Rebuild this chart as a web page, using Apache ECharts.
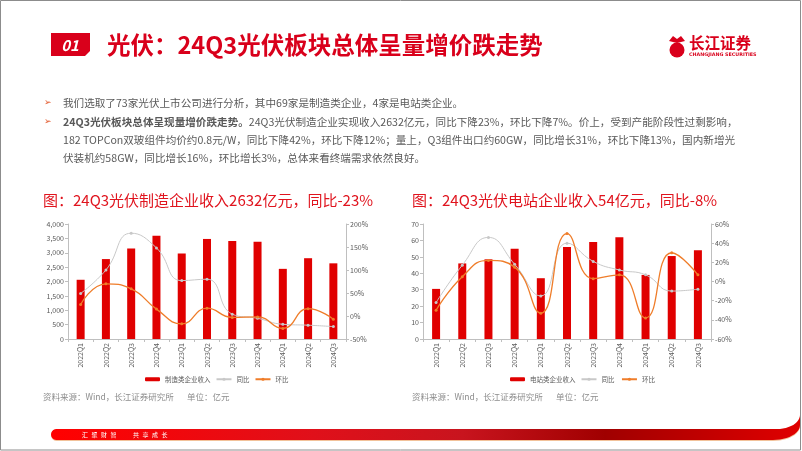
<!DOCTYPE html>
<html><head><meta charset="utf-8">
<script src="https://cdn.jsdelivr.net/npm/echarts@6/dist/echarts.min.js"></script>
<style>html,body{margin:0;padding:0;background:#fff}#c{width:802px;height:451px}</style>
</head><body><div id="c"></div>
<script>
const categories = ['2022Q1','2022Q2','2022Q3','2022Q4','2023Q1','2023Q2','2023Q3','2023Q4','2024Q1','2024Q2','2024Q3'];
const mfgRevenue = [2060,2780,3150,3590,2970,3480,3410,3380,2440,2810,2632];
const mfgYoY = [49,100,180,148,77,80,4,-5,-18,-20,-23];
const mfgQoQ = [25,70,59,15,-17,17,-3,-2,-27,16,-7];
const plantRevenue = [30.5,46,48.5,55,37,56,59,62,39,50.5,54];
const plantYoY = [-22,17,46,18,-15,40,21,12,7,-10,-8];
const plantQoQ = [-30,5,22,15,-33,50,3,7,-38,30,7];

const FONT = '"Noto Sans CJK SC","Noto Sans",sans-serif';
const RED = '#e00000', GRAY = '#c8c8c8', ORANGE = '#ef7d2a', TXT = '#595959';
const chart = echarts.init(document.getElementById('c'));

function xAxis(gi){return {type:'category',gridIndex:gi,data:categories,
  axisLine:{lineStyle:{color:'#bfbfbf'}},axisTick:{show:true,length:3,lineStyle:{color:'#bfbfbf'}},
  axisLabel:{rotate:90,fontSize:7,color:TXT,margin:4,fontFamily:FONT}};}
function yAxis(gi,min,max,iv,pos,fmt){return {type:'value',gridIndex:gi,min:min,max:max,interval:iv,position:pos,
  splitLine:{show:false},axisLine:{show:true,lineStyle:{color:'#bfbfbf'}},
  axisTick:{show:true,length:3,lineStyle:{color:'#bfbfbf'}},
  axisLabel:{fontSize:7,color:TXT,margin:4,fontFamily:FONT,formatter:fmt}};}
function lineS(name,data,color,xi,yi,w){return {name:name,type:'line',xAxisIndex:xi,yAxisIndex:yi,data:data,smooth:0.5,
  symbol:'circle',symbolSize:3,lineStyle:{color:color,width:w},itemStyle:{color:color}};}

const bullets = [
 {y:103, rich:'{n|我们选取了73家光伏上市公司进行分析，其中69家是制造类企业，4家是电站类企业。}', b:true},
 {y:122, rich:'{b|24Q3光伏板块总体呈现量增价跌走势。}{n|24Q3光伏制造企业实现收入2632亿元，同比下降23%，环比下降7%。价上，受到产能阶段性过剩影响，}', b:true},
 {y:140, rich:'{n|182 TOPCon双玻组件均价约0.8元/W，同比下降42%，环比下降12%；量上，Q3组件出口约60GW，同比增长31%，环比下降13%，国内新增光}', b:false},
 {y:158, rich:'{n|伏装机约58GW，同比增长16%，环比增长3%，总体来看终端需求依然良好。}', b:false}
];
// footer band outline (decoration only)
function band(top, bot, tr, br){
  const pts=[];
  const r=(bot-top)/2, cy=(top+bot)/2;
  for(let i=0;i<=10;i++){const a=Math.PI/2+i/10*Math.PI;pts.push([51+r+r*Math.cos(a), cy+r*Math.sin(a)]);}
  const tx=777, ty=tr;
  for(let i=0;i<=12;i++){const a=i/12*Math.PI/2;pts.push([tx+23*Math.sin(a), ty+(top-ty)*Math.cos(a)]);}
  const bx=773, by=br;
  for(let i=12;i>=0;i--){const a=i/12*Math.PI/2;pts.push([bx+27*Math.sin(a), by+(bot-by)*Math.cos(a)]);}
  return pts;
}
const graphics = [];
graphics.push({type:'rect',shape:{x:0.5,y:0.5,width:800,height:449.5},style:{fill:'none',stroke:'#8c8c8c',lineWidth:1},z:100});
// header box
graphics.push({type:'polygon',shape:{points:[[51,33],[90,33],[90,51],[85,56],[51,56]]},style:{fill:'#d9001b'}});
graphics.push({type:'text',x:70,y:45,style:{text:'01',fill:'#fff',font:'italic bold 15px '+FONT,align:'center',verticalAlign:'middle'}});
graphics.push({type:'text',x:107,y:45,style:{text:'光伏：24Q3光伏板块总体呈量增价跌走势',fill:'#d9001b',font:'bold 23.5px '+FONT,verticalAlign:'middle'}});
// logo
graphics.push({type:'circle',shape:{cx:677,cy:50,r:7.5},style:{fill:'#d9001b'}});
graphics.push({type:'polygon',shape:{points:[[669,41],[673,36],[677,39],[681,36],[685,41],[677,43]]},style:{fill:'#d9001b'}});
graphics.push({type:'text',x:689,y:43,style:{text:'长江证券',fill:'#d9001b',font:'bold 15.5px '+FONT,verticalAlign:'middle'}});
graphics.push({type:'text',x:689,y:54.5,style:{text:'CHANGJIANG SECURITIES',fill:'#d9001b',font:'bold 4.8px "DejaVu Sans",sans-serif',verticalAlign:'middle'}});
// bullets
bullets.forEach(function(b){
  if(b.b) graphics.push({type:'text',x:44,y:b.y,style:{text:'➢',fill:'#e2572a',font:'9px "DejaVu Sans",sans-serif',verticalAlign:'middle'}});
  graphics.push({type:'text',x:63,y:b.y,style:{text:b.rich,verticalAlign:'middle',
    rich:{n:{fill:TXT,font:'10.6px '+FONT},b:{fill:TXT,font:'bold 10.6px '+FONT}}}});
});
// chart titles
graphics.push({type:'text',x:43,y:200,style:{text:'图：24Q3光伏制造企业收入2632亿元，同比-23%',fill:'#e0141e',font:'15px '+FONT,verticalAlign:'middle'}});
graphics.push({type:'text',x:412,y:200,style:{text:'图：24Q3光伏电站企业收入54亿元，同比-8%',fill:'#e0141e',font:'15px '+FONT,verticalAlign:'middle'}});
// sources
graphics.push({type:'text',x:43,y:397,style:{text:'资料来源：Wind，长江证券研究所       单位：亿元',fill:'#8c8c8c',font:'8.5px '+FONT,verticalAlign:'middle'}});
graphics.push({type:'text',x:412,y:397,style:{text:'资料来源：Wind，长江证券研究所       单位：亿元',fill:'#8c8c8c',font:'8.5px '+FONT,verticalAlign:'middle'}});
// footer
graphics.push({type:'polygon',shape:{points:band(429.5,441,415.5,426)},style:{fill:'#f2c29a'}});
graphics.push({type:'polygon',shape:{points:band(429,440,415,425)},
  style:{fill:new echarts.graphic.LinearGradient(0,0,1,0,[{offset:0,color:'#ff0000'},{offset:0.35,color:'#e0101a'},{offset:0.55,color:'#c8141e'},{offset:0.74,color:'#a00000'},{offset:1,color:'#e00000'}])}});
'汇聚财智'.split('').forEach(function(ch,i){graphics.push({type:'text',x:82+i*9.5,y:434.5,style:{text:ch,fill:'#fff',font:'6px '+FONT,verticalAlign:'middle'}});});
'共享成长'.split('').forEach(function(ch,i){graphics.push({type:'text',x:133+i*9.5,y:434.5,style:{text:ch,fill:'#fff',font:'6px '+FONT,verticalAlign:'middle'}});});

const option = {
  animation:false,
  textStyle:{fontFamily:FONT},
  graphic:graphics,
  grid:[{left:68,top:224,width:278,height:115},{left:423,top:224,width:288,height:115}],
  xAxis:[xAxis(0),xAxis(1)],
  yAxis:[
    yAxis(0,0,4000,500,'left',function(v){return v.toLocaleString('en-US');}),
    yAxis(0,-50,200,50,'right','{value}%'),
    yAxis(1,0,70,10,'left','{value}'),
    yAxis(1,-60,60,20,'right','{value}%')
  ],
  legend:[
    {left:140,top:371,itemWidth:15,itemHeight:4,itemGap:5,textStyle:{fontSize:6.5,color:TXT},data:['制造类企业收入','同比','环比']},
    {left:505,top:371,itemWidth:15,itemHeight:4,itemGap:5,textStyle:{fontSize:6.5,color:TXT},data:['电站类企业收入','同比 ','环比 ']}
  ],
  series:[
    {name:'制造类企业收入',type:'bar',xAxisIndex:0,yAxisIndex:0,data:mfgRevenue,barWidth:8,itemStyle:{color:RED}},
    lineS('同比',mfgYoY,GRAY,0,1,1),
    lineS('环比',mfgQoQ,ORANGE,0,1,1.3),
    {name:'电站类企业收入',type:'bar',xAxisIndex:1,yAxisIndex:2,data:plantRevenue,barWidth:8,itemStyle:{color:RED}},
    lineS('同比 ',plantYoY,GRAY,1,3,1),
    lineS('环比 ',plantQoQ,ORANGE,1,3,1.3)
  ]
};
chart.setOption(option);
</script></body></html>
